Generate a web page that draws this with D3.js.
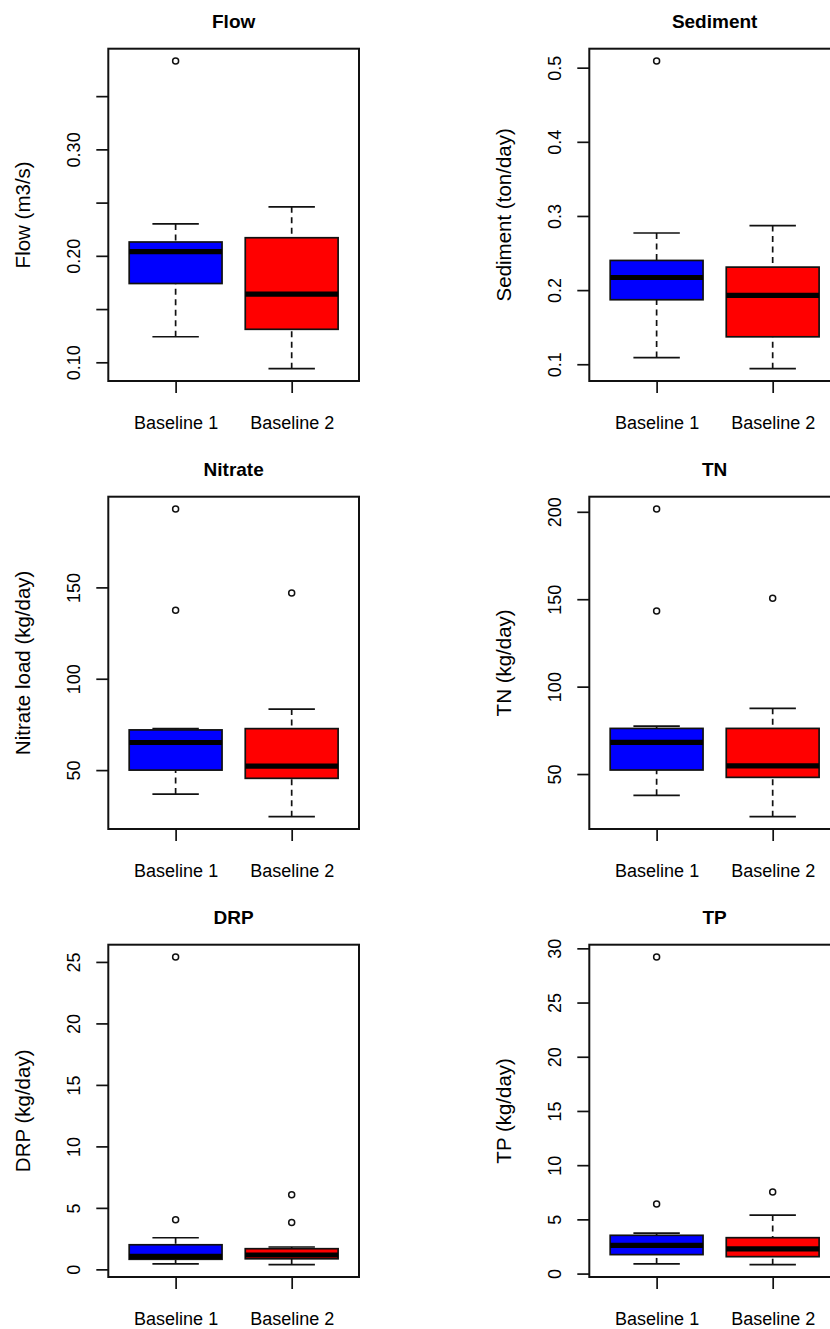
<!DOCTYPE html>
<html>
<head>
<meta charset="utf-8">
<script src="https://cdn.jsdelivr.net/npm/d3@7"></script>
<style>
  html, body { margin: 0; padding: 0; background: #fff; }
  svg { display: block; }
  text { font-family: "Liberation Sans", Arial, Helvetica, sans-serif; fill: #000; }
</style>
</head>
<body>
<svg id="chart" width="830" height="1329"></svg>
<script>
// ---------------- data ----------------
const groups = ["Baseline 1", "Baseline 2"];
const boxColors = ["#0000FF", "#FF0000"];

const panelTitles = ["Flow", "Sediment", "Nitrate", "TN", "DRP", "TP"];
const yTitles = ["Flow (m3/s)", "Sediment (ton/day)", "Nitrate load (kg/day)", "TN (kg/day)", "DRP (kg/day)", "TP (kg/day)"];

// [lower whisker, Q1, median, Q3, upper whisker] for Baseline 1, Baseline 2
const flowStats     = [[0.124, 0.174, 0.204, 0.213, 0.230], [0.094, 0.131, 0.164, 0.217, 0.246]];
const flowOut       = [[0.383], []];
const sedimentStats = [[0.109, 0.187, 0.217, 0.240, 0.277], [0.094, 0.137, 0.193, 0.231, 0.287]];
const sedimentOut   = [[0.509], []];
const nitrateStats  = [[36.9, 50.0, 65.1, 72.0, 72.7], [24.5, 45.5, 52.2, 72.7, 83.4]];
const nitrateOut    = [[192.9, 137.5], [146.9]];
const tnStats       = [[37.8, 52.3, 68.1, 76.1, 77.4], [25.6, 48.1, 54.7, 76.1, 87.6]];
const tnOut         = [[201.6, 143.3], [150.6]];
const drpStats      = [[0.44, 0.82, 1.05, 2.0, 2.57], [0.38, 0.86, 1.17, 1.68, 1.82]];
const drpOut        = [[25.4, 4.04], [6.06, 3.81]];
const tpStats       = [[0.89, 1.75, 2.61, 3.53, 3.74], [0.82, 1.56, 2.27, 3.31, 5.40]];
const tpOut         = [[29.2, 6.41], [7.52]];

const flowTicks = [0.10, 0.15, 0.20, 0.25, 0.30, 0.35];
const flowTickLabels = ["0.10", "", "0.20", "", "0.30", ""];
const sedimentTicks = [0.1, 0.2, 0.3, 0.4, 0.5];
const sedimentTickLabels = ["0.1", "0.2", "0.3", "0.4", "0.5"];
const nitrateTicks = [50, 100, 150];
const nitrateTickLabels = ["50", "100", "150"];
const tnTicks = [50, 100, 150, 200];
const tnTickLabels = ["50", "100", "150", "200"];
const drpTicks = [0, 5, 10, 15, 20, 25];
const drpTickLabels = ["0", "5", "10", "15", "20", "25"];
const tpTicks = [0, 5, 10, 15, 20, 25, 30];
const tpTickLabels = ["0", "5", "10", "15", "20", "25", "30"];

const panels = [
  {title: panelTitles[0], ylab: yTitles[0], stats: flowStats, out: flowOut, ticks: flowTicks, labels: flowTickLabels},
  {title: panelTitles[1], ylab: yTitles[1], stats: sedimentStats, out: sedimentOut, ticks: sedimentTicks, labels: sedimentTickLabels},
  {title: panelTitles[2], ylab: yTitles[2], stats: nitrateStats, out: nitrateOut, ticks: nitrateTicks, labels: nitrateTickLabels},
  {title: panelTitles[3], ylab: yTitles[3], stats: tnStats, out: tnOut, ticks: tnTicks, labels: tnTickLabels},
  {title: panelTitles[4], ylab: yTitles[4], stats: drpStats, out: drpOut, ticks: drpTicks, labels: drpTickLabels},
  {title: panelTitles[5], ylab: yTitles[5], stats: tpStats, out: tpOut, ticks: tpTicks, labels: tpTickLabels}
];

// ---------------- layout ----------------
const colLeft = [108.3, 589.3];
const rowTop = [0, 448, 896];
const frameTop = 48.7, frameW = 250.7, frameH = 332.3;
const lineCol = "#111";

const svg = d3.select("#chart");
svg.append("rect").attr("width", 830).attr("height", 1329).attr("fill", "#fff");

panels.forEach((p, i) => {
  const col = i % 2, row = Math.floor(i / 2);
  const g = svg.append("g").attr("transform", `translate(${colLeft[col]},${rowTop[row] + frameTop})`);

  // R-style limits: data range extended by 4%
  const all = p.stats.flat().concat(p.out.flat());
  const lo = d3.min(all), hi = d3.max(all), ext = (hi - lo) * 0.04;
  const y = d3.scaleLinear().domain([lo - ext, hi + ext]).range([frameH, 0]);
  const x = d3.scaleLinear().domain([0.42, 2.58]).range([0, frameW]);

  const boxHalf = (x(1.4) - x(1)), stapleHalf = boxHalf / 2;

  // boxes
  p.stats.forEach((s, k) => {
    const cx = x(k + 1);
    const [wl, q1, med, q3, wh] = s;
    // whiskers (dashed), drawn from staple toward box
    [[wl, q1], [wh, q3]].forEach(([a, b]) => {
      g.append("line").attr("x1", cx).attr("x2", cx).attr("y1", y(a)).attr("y2", y(b))
        .attr("stroke", lineCol).attr("stroke-width", 1.7).attr("stroke-dasharray", "6,4.5");
    });
    // staples
    [wl, wh].forEach(v => {
      g.append("line").attr("x1", cx - stapleHalf).attr("x2", cx + stapleHalf)
        .attr("y1", y(v)).attr("y2", y(v)).attr("stroke", lineCol).attr("stroke-width", 1.7);
    });
    // box
    g.append("rect").attr("x", cx - boxHalf).attr("width", 2 * boxHalf)
      .attr("y", y(q3)).attr("height", y(q1) - y(q3))
      .attr("fill", boxColors[k]).attr("stroke", lineCol).attr("stroke-width", 1.7);
    // median
    g.append("line").attr("x1", cx - boxHalf).attr("x2", cx + boxHalf)
      .attr("y1", y(med)).attr("y2", y(med)).attr("stroke", "#000").attr("stroke-width", 5.2);
    // outliers
    p.out[k].forEach(v => {
      g.append("circle").attr("cx", cx).attr("cy", y(v)).attr("r", 3)
        .attr("fill", "none").attr("stroke", lineCol).attr("stroke-width", 1.5);
    });
  });

  // frame
  g.append("rect").attr("x", 0).attr("y", 0).attr("width", frameW).attr("height", frameH)
    .attr("fill", "none").attr("stroke", lineCol).attr("stroke-width", 2);

  // y axis
  const yAxis = d3.axisLeft(y).tickValues(p.ticks).tickSize(12)
    .tickFormat((d, j) => p.labels[j]);
  const ya = g.append("g").call(yAxis);
  ya.select(".domain").remove();
  ya.selectAll(".tick line").attr("stroke", lineCol).attr("stroke-width", 1.7);
  ya.selectAll(".tick text")
    .attr("transform", "rotate(-90)")
    .attr("x", 0).attr("y", -28.3).attr("dy", 0)
    .attr("text-anchor", "middle")
    .style("font-size", "18px").style("font-family", "'Liberation Sans', Arial, sans-serif").attr("fill", "#000");

  // x axis
  const xAxis = d3.axisBottom(x).tickValues([1, 2]).tickSize(12)
    .tickFormat((d) => groups[d - 1]);
  const xa = g.append("g").attr("transform", `translate(0,${frameH})`).call(xAxis);
  xa.select(".domain").remove();
  xa.selectAll(".tick line").attr("stroke", lineCol).attr("stroke-width", 1.7);
  xa.selectAll(".tick text").attr("y", 47.5).attr("dy", 0)
    .style("font-size", "18px").style("font-family", "'Liberation Sans', Arial, sans-serif").attr("fill", "#000");

  // y title
  g.append("text")
    .attr("transform", `translate(${-78},${frameH / 2}) rotate(-90)`)
    .attr("text-anchor", "middle")
    .style("font-size", "20.5px")
    .text(p.ylab);

  // main title
  g.append("text")
    .attr("x", frameW / 2).attr("y", 27.8 - frameTop)
    .attr("text-anchor", "middle")
    .style("font-size", "19px").style("font-weight", "bold")
    .text(p.title);
});
</script>
</body>
</html>
